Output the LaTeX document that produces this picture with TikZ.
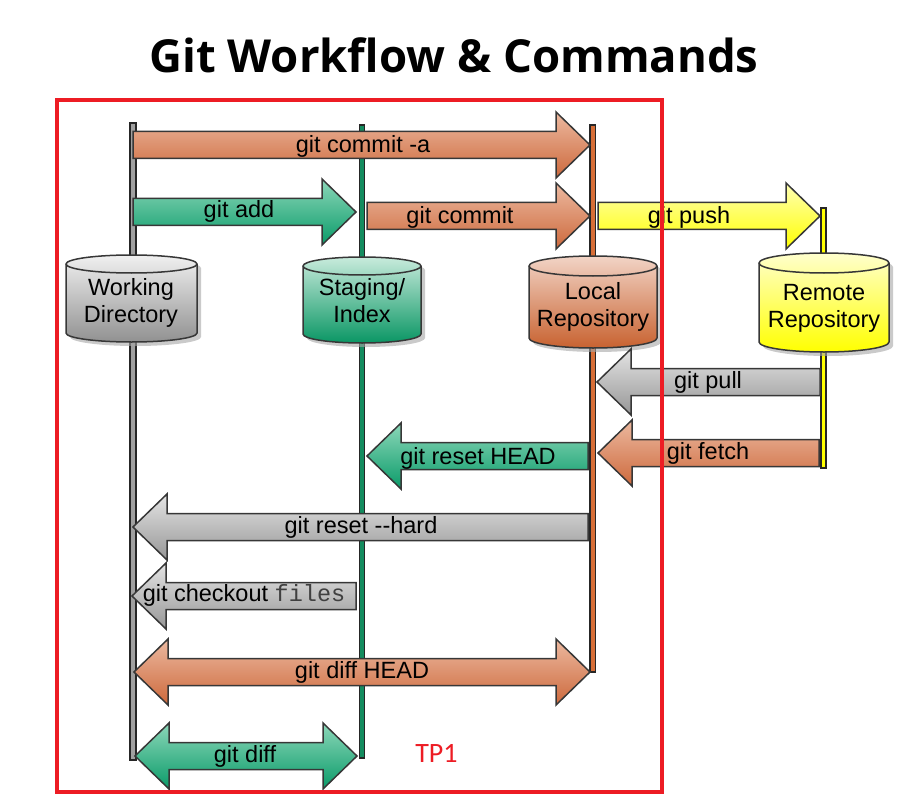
\documentclass[tikz,border=0pt]{standalone}
\usepackage{fontspec}
\setmainfont{Liberation Sans}
\setmonofont{Liberation Mono}
\newfontfamily\titlefont{Open Sans}
\newfontfamily\tpfont{Carlito}
\definecolor{outl}{RGB}{55,55,55}
\definecolor{orT}{RGB}{236,185,160}
\definecolor{orB}{RGB}{205,105,60}
\definecolor{grT}{RGB}{140,215,185}
\definecolor{grB}{RGB}{10,155,105}
\definecolor{gyT}{RGB}{228,228,228}
\definecolor{gyB}{RGB}{150,150,150}
\definecolor{ylT}{RGB}{255,255,180}
\definecolor{ylB}{RGB}{255,255,0}
\definecolor{tpred}{RGB}{237,28,36}
\definecolor{cwT}{RGB}{240,240,240}
\definecolor{cwB}{RGB}{145,145,145}
\definecolor{csT}{RGB}{200,235,220}
\definecolor{csB}{RGB}{10,150,100}
\definecolor{clT}{RGB}{242,212,198}
\definecolor{clB}{RGB}{200,98,48}
\definecolor{crT}{RGB}{255,255,205}
\definecolor{crB}{RGB}{255,255,0}
\definecolor{lwork}{RGB}{160,160,160}
\definecolor{lstag}{RGB}{20,140,95}
\definecolor{lloc}{RGB}{215,110,55}
\definecolor{lrem}{RGB}{255,255,0}
\tikzset{
  blockarrow/.style={draw=outl, line width=1.5pt, line join=miter},
  orangefill/.style={top color=orT, bottom color=orB},
  greenfill/.style={top color=grT, bottom color=grB},
  grayfill/.style={top color=gyT, bottom color=gyB},
  yellowfill/.style={top color=ylT, bottom color=ylB},
  lifeline/.style={draw=black!85, line width=1.2pt},
  cylbody/.style={draw=outl, line width=1.5pt},
  cylshadow/.style={fill=black!35, opacity=0.6},
  lbl/.style={anchor=base, inner sep=0pt, font=\fontsize{23.5}{27}\selectfont, text=black},
  cyltext/.style={align=center, inner sep=0pt, font=\fontsize{23.5}{27}\selectfont, text=black},
}
% right arrow: style, x start, x tip, y centre
\newcommand{\RArr}[4]{%
  \path[blockarrow,#1] (#2,{-(#4-13.5)}) -- ({#3-34},{-(#4-13.5)}) -- ({#3-34},{-(#4-33)}) -- (#3,-#4)
    -- ({#3-34},{-(#4+33)}) -- ({#3-34},{-(#4+13.5)}) -- (#2,{-(#4+13.5)}) -- cycle;}
% left arrow: style, x tip, x end, y centre
\newcommand{\LArr}[4]{%
  \path[blockarrow,#1] (#3,{-(#4-13.5)}) -- ({#2+34},{-(#4-13.5)}) -- ({#2+34},{-(#4-33)}) -- (#2,-#4)
    -- ({#2+34},{-(#4+33)}) -- ({#2+34},{-(#4+13.5)}) -- (#3,{-(#4+13.5)}) -- cycle;}
% double arrow: style, x left tip, x right tip, y centre
\newcommand{\DArr}[4]{%
  \path[blockarrow,#1] (#2,-#4) -- ({#2+34},{-(#4-33)}) -- ({#2+34},{-(#4-13.5)}) -- ({#3-34},{-(#4-13.5)})
    -- ({#3-34},{-(#4-33)}) -- (#3,-#4) -- ({#3-34},{-(#4+33)}) -- ({#3-34},{-(#4+13.5)})
    -- ({#2+34},{-(#4+13.5)}) -- ({#2+34},{-(#4+33)}) -- cycle;}
% cylinder: colours top,bottom ; l, r, t, b, ry
\newcommand{\Cyl}[7]{%
  \pgfmathsetmacro\cylrx{(#4-#3)/2}%
  \begin{scope}[shift={(4,-4)}]
  \fill[cylshadow] (#3,{-(#5+#7)}) -- (#3,{-(#6-#7)}) arc[start angle=180, end angle=360, x radius=\cylrx pt, y radius=#7pt]
    -- (#4,{-(#5+#7)}) arc[start angle=0, end angle=180, x radius=\cylrx pt, y radius=#7pt] -- cycle;
  \end{scope}
  \path[cylbody, top color=#1, bottom color=#2] (#3,{-(#5+#7)}) -- (#3,{-(#6-#7)}) arc[start angle=180, end angle=360, x radius=\cylrx pt, y radius=#7pt]
    -- (#4,{-(#5+#7)}) arc[start angle=0, end angle=180, x radius=\cylrx pt, y radius=#7pt] -- cycle;
  \draw[cylbody] (#3,{-(#5+#7)}) arc[start angle=180, end angle=360, x radius=\cylrx pt, y radius=#7pt];}
\begin{document}
\begin{tikzpicture}[x=1pt,y=1pt]
\useasboundingbox (0,0) rectangle (909,-810);
% title
\node[anchor=base, inner sep=0pt, font=\titlefont\bfseries\fontsize{45.5}{50}\selectfont] (title) at (454,-73) {Git Workflow \& Commands};
% lifelines
\path[lifeline, fill=lwork] (130,-123) rectangle (136,-760);
\path[lifeline, fill=lstag] (359.5,-125) rectangle (364.5,-758);
\path[lifeline, fill=lloc] (590,-125) rectangle (595.5,-672);
\path[lifeline, fill=lrem] (821,-208) rectangle (826,-468);
% cylinders
\Cyl{cwT}{cwB}{66}{197}{255}{342}{9}
\Cyl{csT}{csB}{303}{421}{257}{343}{9}
\Cyl{clT}{clB}{529}{657}{256}{348}{10}
\Cyl{crT}{crB}{759}{889}{253}{352}{10}
\node[cyltext] (wd) at (131,-303.3) {Working\\Directory};
\node[cyltext] (si) at (362,-300.4) {Staging/\\Index};
\node[cyltext] (lr) at (593,-307.4) {Local\\Repository};
\node[cyltext] (rr) at (824,-308.3) {Remote\\Repository};
% arrows
\RArr{orangefill}{133}{590}{145}
\node[lbl] (lca) at (363,-153) {git commit -a};
\RArr{greenfill}{133}{356}{212}
\node[lbl] (ladd) at (239,-218) {git add};
\RArr{orangefill}{367}{590}{216}
\node[lbl] (lcom) at (460,-223) {git commit};
\RArr{yellowfill}{598}{820}{216}
\node[lbl] (lpush) at (689,-223) {git push};
\LArr{grayfill}{597}{820}{382}
\node[lbl] (lpull) at (708,-388) {git pull};
\LArr{orangefill}{598}{819}{453}
\node[lbl] (lfetch) at (708,-459) {git fetch};
\LArr{greenfill}{367}{588}{456}
\node[lbl] (lrh) at (478,-464) {git reset HEAD};
\LArr{grayfill}{133}{588}{527}
\node[lbl] (lhard) at (361,-533) {git reset -{}-hard};
\LArr{grayfill}{132}{356}{596}
\node[lbl] (lco) at (244,-601) {git checkout {\color{black!75}\texttt{files}}};
\DArr{orangefill}{134}{590}{672}
\node[lbl] (ldh) at (362,-678) {git diff HEAD};
\DArr{greenfill}{135}{357}{756}
\node[lbl] (ldiff) at (245,-762) {git diff};
% red frame and TP1
\draw[tpred, line width=4pt] (57,-100) rectangle (662,-792);
\node[anchor=center, inner sep=0pt, text=tpred, font=\tpfont\fontsize{28}{30}\selectfont] (tp) at (436.5,-753.5) {TP1};
\end{tikzpicture}
\end{document}
